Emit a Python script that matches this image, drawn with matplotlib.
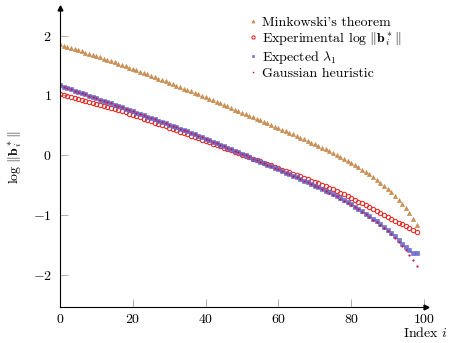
import numpy as np
import matplotlib
matplotlib.use('Agg')
import matplotlib.pyplot as plt

plt.rcParams['font.family'] = 'serif'
plt.rcParams['font.serif'] = ['cmr10']
plt.rcParams['mathtext.fontset'] = 'cm'
plt.rcParams['axes.formatter.use_mathtext'] = True

index = list(range(99))

minkowski = [
    1.850, 1.831, 1.812, 1.793, 1.774, 1.754, 1.734, 1.714, 1.694, 1.674,
    1.654, 1.633, 1.612, 1.591, 1.570, 1.549, 1.527, 1.505, 1.483, 1.461,
    1.439, 1.417, 1.394, 1.371, 1.348, 1.325, 1.302, 1.279, 1.256, 1.232,
    1.208, 1.184, 1.160, 1.136, 1.112, 1.088, 1.064, 1.039, 1.014, 0.989,
    0.964, 0.939, 0.914, 0.889, 0.864, 0.839, 0.813, 0.787, 0.761, 0.735,
    0.709, 0.683, 0.657, 0.631, 0.606, 0.581, 0.556, 0.530, 0.504, 0.478,
    0.452, 0.426, 0.400, 0.373, 0.346, 0.319, 0.292, 0.265, 0.237, 0.209,
    0.181, 0.153, 0.124, 0.095, 0.065, 0.034, 0.003, -0.029, -0.062, -0.096,
    -0.131, -0.167, -0.204, -0.242, -0.282, -0.324, -0.368, -0.414, -0.462, -0.517,
    -0.567, -0.622, -0.683, -0.750, -0.812, -0.883, -0.967, -1.062, -1.167,
]

experimental = [
    1.025, 1.009, 0.993, 0.977, 0.960, 0.943, 0.926, 0.909, 0.892, 0.875,
    0.858, 0.841, 0.823, 0.805, 0.787, 0.769, 0.751, 0.733, 0.713, 0.692,
    0.671, 0.650, 0.629, 0.608, 0.587, 0.566, 0.545, 0.524, 0.502, 0.480,
    0.458, 0.436, 0.414, 0.392, 0.370, 0.348, 0.326, 0.304, 0.282, 0.260,
    0.238, 0.216, 0.193, 0.170, 0.147, 0.124, 0.101, 0.078, 0.055, 0.032,
    0.009, -0.014, -0.037, -0.060, -0.083, -0.105, -0.128, -0.150, -0.173, -0.195,
    -0.218, -0.241, -0.264, -0.287, -0.310, -0.333, -0.356, -0.379, -0.402, -0.425,
    -0.448, -0.471, -0.496, -0.522, -0.548, -0.575, -0.602, -0.630, -0.658, -0.687,
    -0.716, -0.746, -0.776, -0.807, -0.838, -0.869, -0.900, -0.931, -0.962, -0.997,
    -1.030, -1.063, -1.096, -1.128, -1.160, -1.192, -1.224, -1.256, -1.288,
]

expected = [
    1.167, 1.145, 1.124, 1.102, 1.080, 1.059, 1.037, 1.016, 0.994, 0.972,
    0.951, 0.929, 0.907, 0.886, 0.864, 0.842, 0.821, 0.799, 0.777, 0.755,
    0.733, 0.711, 0.689, 0.667, 0.644, 0.622, 0.600, 0.577, 0.555, 0.533,
    0.510, 0.488, 0.466, 0.443, 0.421, 0.398, 0.374, 0.350, 0.325, 0.300,
    0.275, 0.250, 0.225, 0.200, 0.175, 0.150, 0.124, 0.098, 0.072, 0.046,
    0.020, -0.006, -0.032, -0.058, -0.084, -0.110, -0.136, -0.162, -0.188, -0.214,
    -0.240, -0.266, -0.293, -0.320, -0.347, -0.374, -0.401, -0.428, -0.455, -0.482,
    -0.509, -0.536, -0.564, -0.593, -0.623, -0.654, -0.686, -0.719, -0.753, -0.788,
    -0.824, -0.861, -0.899, -0.939, -0.980, -1.022, -1.065, -1.109, -1.155, -1.205,
    -1.255, -1.305, -1.360, -1.420, -1.480, -1.535, -1.585, -1.630, -1.630,
]

gaussian = [
    1.167, 1.145, 1.124, 1.102, 1.080, 1.059, 1.037, 1.016, 0.994, 0.972,
    0.951, 0.929, 0.907, 0.886, 0.864, 0.842, 0.821, 0.799, 0.777, 0.755,
    0.733, 0.711, 0.689, 0.667, 0.644, 0.622, 0.600, 0.577, 0.555, 0.533,
    0.510, 0.488, 0.466, 0.443, 0.421, 0.398, 0.374, 0.350, 0.325, 0.300,
    0.275, 0.250, 0.225, 0.200, 0.175, 0.150, 0.124, 0.098, 0.072, 0.046,
    0.020, -0.006, -0.032, -0.058, -0.084, -0.110, -0.136, -0.162, -0.188, -0.214,
    -0.240, -0.266, -0.293, -0.320, -0.347, -0.374, -0.401, -0.428, -0.456, -0.484,
    -0.512, -0.540, -0.569, -0.598, -0.628, -0.660, -0.692, -0.726, -0.760, -0.796,
    -0.832, -0.870, -0.909, -0.950, -0.992, -1.035, -1.079, -1.124, -1.170, -1.220,
    -1.270, -1.320, -1.385, -1.450, -1.515, -1.585, -1.665, -1.760, -1.860,
]

fig = plt.figure(figsize=(4.51, 3.43), dpi=100)
ax = fig.add_axes([60 / 451, 36 / 343, 365.8 / 451, 299 / 343])

ax.plot(index, minkowski, linestyle='none', marker='^', ms=3.0,
        mfc='#d09050', mec='#c0864a', mew=0.4, label="Minkowski's theorem")
ax.plot(index, experimental, linestyle='none', marker='o', ms=3.1,
        mfc='none', mec='#e8302a', mew=0.8,
        label=r'Experimental $\log\,\Vert\mathbf{b}_i^*\Vert$')
ax.plot(index, expected, linestyle='none', marker='s', ms=2.3,
        mfc='#7878d4', mec='#6060c8', mew=0.4, label=r'Expected $\lambda_1$')
ax.plot(index, gaussian, linestyle='none', marker='o', ms=1.6,
        mfc='#c8143c', mec='#c8143c', mew=0, label='Gaussian heuristic')

ax.set_xlim(0, 100.5)
ax.set_ylim(-2.54, 2.46)
ax.set_xticks([0, 20, 40, 60, 80, 100])
ax.set_yticks([-2, -1, 0, 1, 2])

for s in ['top', 'right']:
    ax.spines[s].set_visible(False)
for s in ['left', 'bottom']:
    ax.spines[s].set_linewidth(0.8)
ax.tick_params(direction='in', length=6, width=0.6, color='#a0a0a0',
               labelsize=10)
ax.tick_params(axis='x', pad=4)
ax.tick_params(axis='y', pad=6)

# arrow heads on the axis lines
ax.plot(1, 0, '>', color='black', ms=3.5, transform=ax.transAxes, clip_on=False)
ax.plot(0, 1, '^', color='black', ms=3.5, transform=ax.transAxes, clip_on=False)

ax.set_ylabel(r'$\log\,\Vert\mathbf{b}_i^*\Vert$', fontsize=10, labelpad=6)
fig.text(448 / 451, 1 - 333 / 343, r'Index $i$', ha='right', va='center',
         fontsize=10)

ax.legend(loc='upper left', bbox_to_anchor=(250 / 451, 1 - 16 / 343),
          bbox_transform=fig.transFigure, frameon=False, fontsize=10,
          handlelength=0.5, handletextpad=0.4, labelspacing=0.08,
          borderpad=0, borderaxespad=0, markerscale=0.75)

fig.savefig('out.png', dpi=100)
